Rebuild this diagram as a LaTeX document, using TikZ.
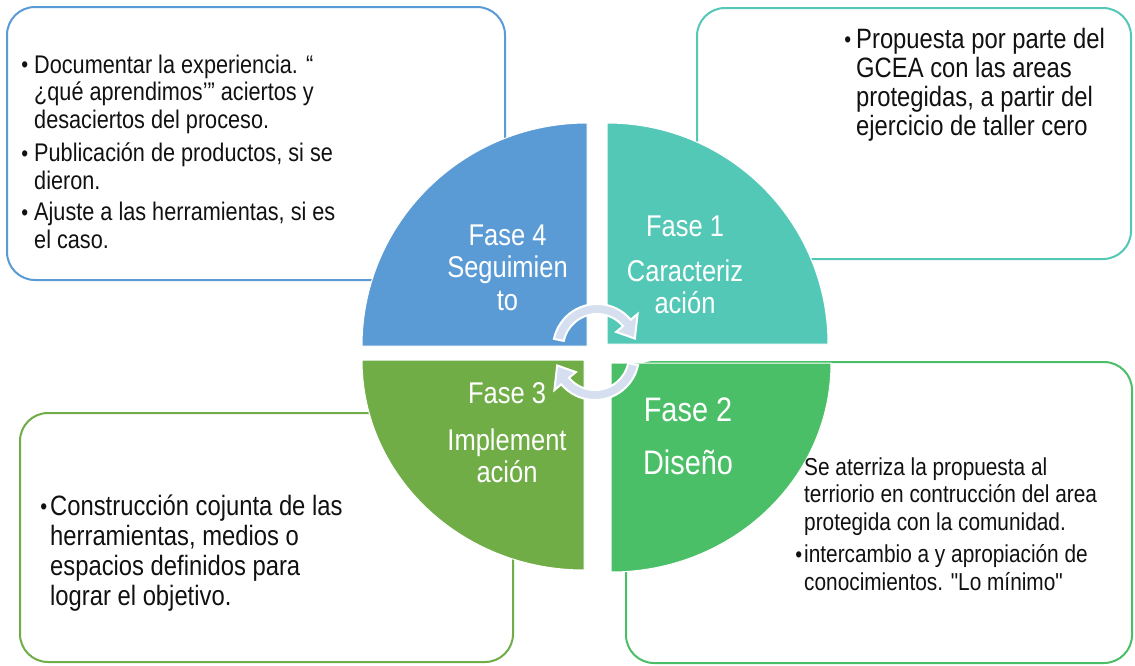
\documentclass[tikz,border=0pt]{standalone}
\usepackage{fontspec}
\setmainfont{Liberation Sans}[FakeStretch=0.85, Ligatures=TeXOff]
\definecolor{cfour}{HTML}{5B9BD5}
\definecolor{cone}{HTML}{54C8B6}
\definecolor{ctwo}{HTML}{4ABF67}
\definecolor{cthree}{HTML}{70AD47}
\definecolor{carrow}{HTML}{D5DFF0}
\definecolor{ctext}{HTML}{111111}
\newcommand\bul[1]{\llap{\raisebox{0.5pt}{\fontsize{23}{23}\selectfont\char"2022}\hspace{#1pt}}}
\begin{document}
\begin{tikzpicture}[x=1pt,y=-1pt,
  frame/.style={line width=2pt, rounded corners=28pt},
  quad/.style={draw=white, line width=1pt},
  cyc/.style={fill=carrow, draw=white, line width=2pt, line join=miter},
  body/.style={anchor=base west, align=left, inner sep=0pt, text=ctext},
  lbl/.style={anchor=base, align=center, inner sep=0pt, text=white}]
\useasboundingbox (0,0) rectangle (1135,665);
\fill[white] (0,0) rectangle (1135,665);
% outer boxes
\draw[frame, cfour] (7,7) rectangle (505,280);
\draw[frame, cone] (697,8) rectangle (1131,259);
\draw[frame, ctwo] (626,362) rectangle (1132,663);
\draw[frame, cthree] (20,413) rectangle (513,662);
% quadrants
\filldraw[quad, fill=cfour] (587,346) -- (362,346) arc[start angle=180, end angle=90, x radius=225pt, y radius=223pt] -- cycle;
\filldraw[quad, fill=cone] (607,344) -- (607,123) arc[start angle=90, end angle=0, x radius=221pt, y radius=221pt] -- cycle;
\filldraw[quad, fill=cthree] (584,360) -- (362,360) arc[start angle=180, end angle=270, x radius=222pt, y radius=210pt] -- cycle;
\filldraw[quad, fill=ctwo] (611,363) -- (831,363) arc[start angle=0, end angle=-90, x radius=220pt, y radius=209pt] -- cycle;
% cycle arrows
\begin{scope}[shift={(597,348)}]
\filldraw[cyc] (168:34pt) -- (168:44pt) arc[start angle=168, end angle=40, radius=44pt] -- (40:53pt) -- (14:39pt) -- (40:25pt) -- (40:34pt) arc[start angle=40, end angle=168, radius=34pt] -- cycle;
\end{scope}
\begin{scope}[shift={(595,356)}]
\filldraw[cyc] (348:34pt) -- (348:44pt) arc[start angle=348, end angle=220, radius=44pt] -- (220:53pt) -- (194:39pt) -- (220:25pt) -- (220:34pt) arc[start angle=220, end angle=348, radius=34pt] -- cycle;
\end{scope}
% phase labels (positions are the baseline of the last line)
\node[lbl, font=\fontsize{30}{32.5}\selectfont] (f4) at (507.5,310) {Fase 4\\Seguimien\\to};
\node[lbl, font=\fontsize{30}{31.5}\selectfont] (f1) at (685,313) {Fase 1\\[13.5pt]Caracteriz\\ación};
\node[lbl, font=\fontsize{30}{32}\selectfont] (f3) at (507,482) {Fase 3\\[15pt]Implement\\ación};
\node[lbl, font=\fontsize{34}{53}\selectfont] (f2) at (688,474) {Fase 2\\Diseño};
% box texts (positions are the baseline of the last line)
\node[body, font=\fontsize{25.5}{27.3}\selectfont] (tla) at (34,128) {\bul{6}Documentar la experiencia. “\\¿qué aprendimos’” aciertos y\\desaciertos del proceso.};
\node[body, font=\fontsize{25.5}{27.3}\selectfont] (tlb) at (34,189) {\bul{6}Publicación de productos, si se\\dieron.};
\node[body, font=\fontsize{25.5}{27.3}\selectfont] (tlc) at (34,248) {\bul{6}Ajuste a las herramientas, si es\\el caso.};
\node[body, font=\fontsize{28}{29}\selectfont] (tra) at (856,135) {\bul{5}Propuesta por parte del\\GCEA con las areas\\protegidas, a partir del\\ejercicio de taller cero};
\node[body, font=\fontsize{24.5}{27.5}\selectfont] (bra) at (804,530) {Se aterriza la propuesta al\\terriorio en contrucción del area\\protegida con la comunidad.};
\node[body, font=\fontsize{24.5}{27.5}\selectfont] (brb) at (804,590) {\bul{2}intercambio a y apropiación de\\conocimientos. "Lo mínimo"};
\node[body, font=\fontsize{28}{30}\selectfont] (bla) at (50,605) {\bul{3}Construcción cojunta de las\\herramientas, medios o\\espacios definidos para\\lograr el objetivo.};
\end{tikzpicture}
\end{document}
